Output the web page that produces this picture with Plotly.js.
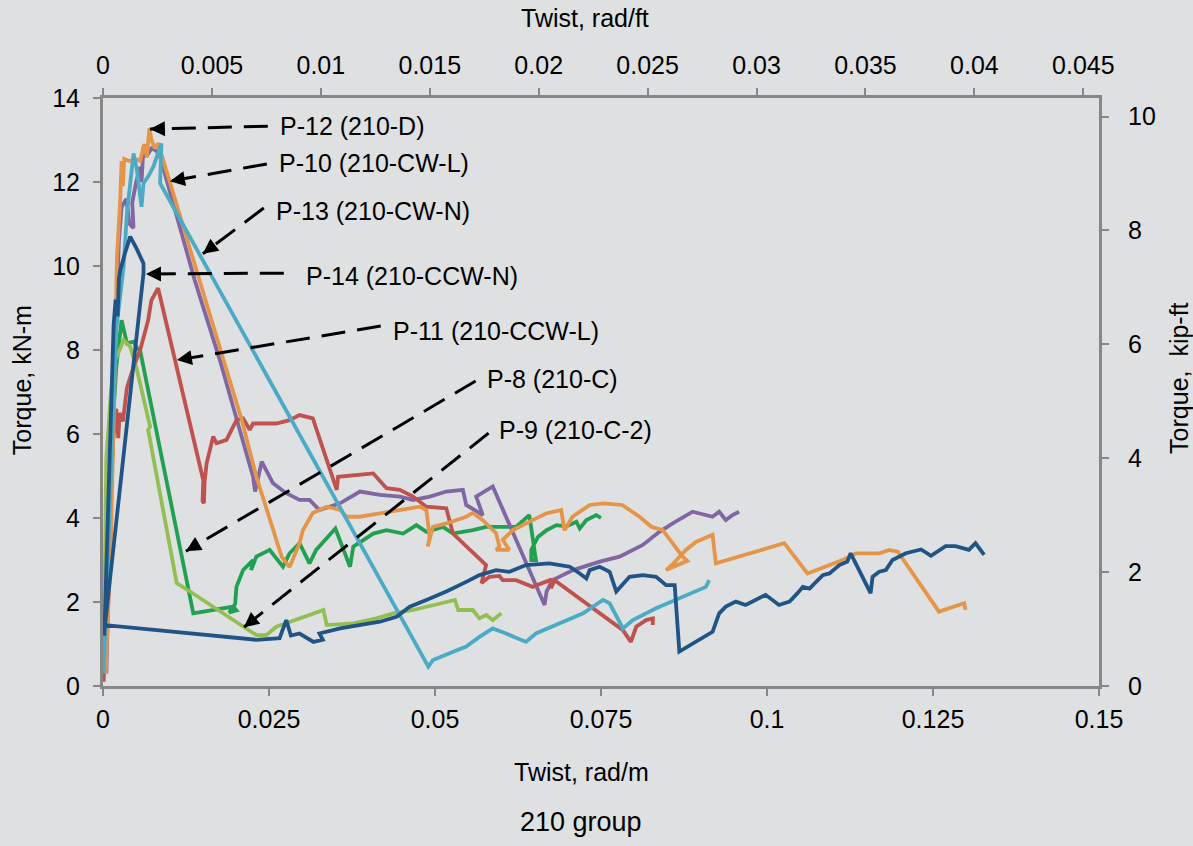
<!DOCTYPE html>
<html>
<head>
<meta charset="utf-8">
<script src="https://cdn.plot.ly/plotly-3.0.1.min.js"></script>
<style>
  html, body { margin: 0; padding: 0; background: #DFE0E2; }
  #chart { width: 1193px; height: 846px; }
</style>
</head>
<body>
<div id="chart"></div>
<script>
// Torque versus twist for the 210 group specimens (kN-m vs rad/m, with kip-ft and rad/ft on the secondary axes)

const seriesLabels = ["P-8 (210-C)", "P-9 (210-C-2)", "P-10 (210-CW-L)", "P-11 (210-CCW-L)",
                      "P-12 (210-D)", "P-13 (210-CW-N)", "P-14 (210-CCW-N)"];

// P-8 (210-C)
const p8Twist = [0.0002,0.0008,0.0014,0.0020,0.0025,0.0028,0.0036,0.0046,0.0051,0.0056,0.0136,0.0196,0.0201,0.0190,0.0199,0.0201,0.0211,0.0226,0.0223,0.0231,0.0251,0.0271,0.0281,0.0296,0.0311,0.0321,0.0350,0.0367,0.0372,0.0377,0.0407,0.0427,0.0452,0.0472,0.0487,0.0512,0.0527,0.0557,0.0577,0.0622,0.0642,0.0652,0.0645,0.0645,0.0655,0.0668,0.0683,0.0698,0.0713,0.0718,0.0728,0.0743,0.0750];
const p8Torque = [0.3,3.5,6.0,7.6,8.3,8.71,8.16,8.20,8.05,7.98,1.73,1.89,1.80,1.75,1.95,2.36,2.76,3.00,2.76,3.08,3.24,2.84,3.16,3.40,2.92,3.24,3.75,3.08,2.84,3.32,3.63,3.71,3.63,3.83,3.67,3.79,3.63,3.71,3.79,3.79,4.07,3.00,3.00,3.24,3.55,3.71,3.83,3.80,3.91,3.75,3.95,4.07,4.00];

// P-9 (210-C-2)
const p9Twist = [0.0001,0.0003,0.0005,0.0012,0.0018,0.0025,0.0031,0.0041,0.0050,0.0071,0.0068,0.0111,0.0131,0.0231,0.0246,0.0261,0.0291,0.0332,0.0337,0.0377,0.0412,0.0437,0.0467,0.0497,0.0530,0.0535,0.0557,0.0567,0.0577,0.0587,0.0600];
const p9Torque = [0.5,3.0,5.4,7.0,7.76,8.0,8.24,8.08,7.6,6.17,6.10,2.45,2.25,1.21,1.21,1.41,1.57,1.81,1.45,1.49,1.61,1.73,1.81,1.93,2.05,1.81,1.81,1.61,1.69,1.57,1.73];

// P-10 (210-CW-L)
const p10Twist = [0.0005,0.0012,0.0018,0.0024,0.0028,0.0035,0.0040,0.0046,0.0044,0.0050,0.0056,0.0058,0.0061,0.0065,0.0068,0.0073,0.0080,0.0086,0.0138,0.0176,0.0226,0.0229,0.0239,0.0256,0.0276,0.0296,0.0311,0.0326,0.0357,0.0387,0.0417,0.0447,0.0467,0.0492,0.0517,0.0542,0.0547,0.0572,0.0562,0.0587,0.0665,0.0668,0.0677,0.0708,0.0748,0.0778,0.0813,0.0838,0.0858,0.0888,0.0918,0.0928,0.0938,0.0948,0.0958];
const p10Torque = [0.3,4.5,8.0,10.6,11.4,11.6,11.0,10.9,11.5,12.0,12.36,12.0,12.84,12.6,12.68,12.8,12.75,12.6,9.67,7.76,4.98,4.63,5.34,4.83,4.59,4.43,4.43,4.19,4.35,4.63,4.55,4.51,4.43,4.51,4.63,4.67,4.31,4.07,4.51,4.75,1.93,2.25,2.52,2.76,2.96,3.08,3.36,3.67,3.87,4.15,4.03,4.15,3.95,4.07,4.15];

// P-11 (210-CCW-L)
const p11Twist = [0.0001,0.0003,0.0010,0.0015,0.0020,0.0023,0.0025,0.0030,0.0036,0.0046,0.0056,0.0068,0.0073,0.0083,0.0151,0.0150,0.0152,0.0153,0.0156,0.0166,0.0171,0.0186,0.0201,0.0211,0.0221,0.0226,0.0261,0.0281,0.0296,0.0316,0.0337,0.0352,0.0354,0.0382,0.0407,0.0427,0.0447,0.0467,0.0487,0.0517,0.0527,0.0577,0.0570,0.0582,0.0597,0.0602,0.0622,0.0647,0.0668,0.0673,0.0675,0.0680,0.0783,0.0795,0.0803,0.0818,0.0828,0.0828];
const p11Torque = [0.1,1.0,4.0,5.8,6.6,5.9,6.5,6.3,7.1,7.60,8.00,8.71,9.19,9.47,4.90,4.40,4.35,4.85,5.30,5.94,5.78,5.86,6.33,6.37,6.10,6.25,6.25,6.33,6.45,6.37,5.38,4.67,4.98,5.02,5.06,4.71,4.67,4.51,4.27,4.23,3.63,2.88,2.45,2.60,2.62,2.52,2.52,2.36,2.48,2.52,2.33,2.52,1.33,1.05,1.41,1.57,1.61,1.45];

// P-12 (210-D)
const p12Twist = [0.0004,0.0012,0.0017,0.0021,0.0026,0.0028,0.0030,0.0032,0.0040,0.0048,0.0056,0.0062,0.0066,0.0070,0.0073,0.0078,0.0083,0.0209,0.0231,0.0269,0.0281,0.0296,0.0301,0.0316,0.0337,0.0357,0.0367,0.0387,0.0417,0.0447,0.0477,0.0487,0.0492,0.0489,0.0497,0.0517,0.0547,0.0557,0.0572,0.0592,0.0597,0.0592,0.0612,0.0602,0.0617,0.0647,0.0668,0.0690,0.0695,0.0707,0.0733,0.0753,0.0782,0.0808,0.0826,0.0843,0.0858,0.0873,0.0880,0.0848,0.0858,0.0878,0.0893,0.0918,0.0923,0.1026,0.1061,0.1114,0.1134,0.1169,0.1184,0.1197,0.1259,0.1297,0.1299];
const p12Torque = [0.3,3.5,7.0,10.2,11.6,12.5,11.9,12.55,12.5,12.55,12.5,12.9,12.6,13.28,13.0,12.8,12.92,6.33,4.98,3.08,2.83,3.40,3.71,4.12,4.27,4.19,4.03,4.03,4.11,4.19,4.27,4.19,3.55,3.32,3.79,3.87,4.03,4.12,3.95,3.64,3.32,3.24,3.24,3.48,3.71,3.95,4.11,4.19,3.71,4.03,4.31,4.35,4.31,4.03,3.79,3.71,3.40,3.08,2.98,2.76,2.90,3.24,3.43,3.60,2.92,3.40,2.68,3.00,3.16,3.16,3.24,3.20,1.77,1.97,1.81];

// P-13 (210-CW-N)
const p13Twist = [0.0001,0.0003,0.0012,0.0020,0.0031,0.0036,0.0046,0.0051,0.0058,0.0061,0.0068,0.0076,0.0088,0.0086,0.0490,0.0497,0.0522,0.0547,0.0567,0.0587,0.0607,0.0637,0.0652,0.0688,0.0723,0.0753,0.0763,0.0783,0.0798,0.0833,0.0863,0.0888,0.0908,0.0913];
const p13Torque = [0.3,1.2,5.5,8.5,9.98,11.25,12.68,12.29,11.41,11.97,12.13,12.37,12.92,11.97,0.46,0.62,0.78,0.94,1.17,1.37,1.25,1.05,1.25,1.49,1.73,2.05,1.97,1.37,1.57,1.85,2.05,2.21,2.36,2.52];

// P-14 (210-CCW-N)
const p14Twist = [0.0002,0.0008,0.0012,0.0016,0.0019,0.0022,0.0024,0.0026,0.0033,0.0041,0.0051,0.0061,0.0061,0.0003,0.0231,0.0266,0.0276,0.0283,0.0296,0.0317,0.0331,0.0326,0.0357,0.0387,0.0417,0.0442,0.0462,0.0487,0.0517,0.0547,0.0567,0.0592,0.0612,0.0637,0.0672,0.0688,0.0703,0.0718,0.0728,0.0733,0.0748,0.0763,0.0773,0.0793,0.0813,0.0833,0.0848,0.0861,0.0868,0.0918,0.0928,0.0938,0.0953,0.0968,0.0998,0.1018,0.1034,0.1046,0.1054,0.1064,0.1084,0.1094,0.1109,0.1121,0.1126,0.1156,0.1159,0.1169,0.1179,0.1189,0.1209,0.1232,0.1247,0.1269,0.1284,0.1304,0.1314,0.1327];
const p14Torque = [1.2,4.5,7.0,8.6,9.2,8.8,9.7,9.9,10.3,10.70,10.4,10.06,9.83,1.45,1.10,1.14,1.57,1.20,1.25,1.05,1.10,1.25,1.37,1.45,1.53,1.65,1.89,2.05,2.25,2.48,2.64,2.76,2.72,2.88,2.92,2.88,2.84,2.68,2.56,2.76,2.84,2.72,2.25,2.60,2.64,2.60,2.40,2.40,0.82,1.29,1.73,1.89,2.01,1.93,2.17,1.93,2.01,2.21,2.36,2.32,2.64,2.68,2.88,2.96,3.16,2.21,2.60,2.72,2.76,3.00,3.16,3.25,3.10,3.33,3.33,3.24,3.40,3.12];

// Axis ticks (primary SI, secondary US customary)
const twistTicksM = [0, 0.025, 0.05, 0.075, 0.1, 0.125, 0.15];
const twistTickTextM = ["0", "0.025", "0.05", "0.075", "0.1", "0.125", "0.15"];
const twistTicksFt = [0, 0.005, 0.01, 0.015, 0.02, 0.025, 0.03, 0.035, 0.04, 0.045];
const twistTickTextFt = ["0", "0.005", "0.01", "0.015", "0.02", "0.025", "0.03", "0.035", "0.04", "0.045"];
const torqueTicksKN = [0, 2, 4, 6, 8, 10, 12, 14];
const torqueTicksKip = [0, 2, 4, 6, 8, 10];

const M_TO_FT = 0.3048;        // rad/m -> rad/ft
const KNM_TO_KIPFT = 0.737562; // kN-m -> kip-ft
const TWIST_MAX = 0.15, TORQUE_MAX = 14;

const FONT = "Liberation Sans, Arial, sans-serif";
const AXIS_GREY = "#878787";

const seriesData = [
  [p8Twist, p8Torque, "#21A052"],
  [p9Twist, p9Torque, "#93BF52"],
  [p10Twist, p10Torque, "#8066A3"],
  [p11Twist, p11Torque, "#BF524E"],
  [p12Twist, p12Torque, "#E59547"],
  [p13Twist, p13Torque, "#4BABC5"],
  [p14Twist, p14Torque, "#215486"]
];

const traces = seriesData.map((s, i) => ({
  type: "scatter",
  mode: "lines",
  name: seriesLabels[i],
  x: s[0],
  y: s[1],
  line: { color: s[2], width: 3.8 },
  hoverinfo: "x+y+name",
  showlegend: false
}));

// The same specimen in US units on the secondary (top / right) axes; it only carries those axes
traces.push({
  type: "scatter",
  mode: "none",
  name: seriesLabels[6] + " (US units)",
  x: p14Twist.map(v => v * M_TO_FT),
  y: p14Torque.map(v => v * KNM_TO_KIPFT),
  xaxis: "x2",
  yaxis: "y2",
  hoverinfo: "skip",
  showlegend: false
});

// Callouts: dashed leader from the label to an arrowhead on the curve
const callouts = [
  { label: seriesLabels[4], tip: [0.00707, 13.26], tail: [0.02482, 13.33], text: [0.02633, 13.33] },
  { label: seriesLabels[2], tip: [0.01008, 12.02], tail: [0.02467, 12.43], text: [0.02618, 12.45] },
  { label: seriesLabels[5], tip: [0.01504, 10.29], tail: [0.02422, 11.38], text: [0.02573, 11.31] },
  { label: seriesLabels[6], tip: [0.00647, 9.81],  tail: [0.02723, 9.83],  text: [0.03024, 9.76] },
  { label: seriesLabels[3], tip: [0.01113, 7.76],  tail: [0.04183, 8.57],  text: [0.04333, 8.45] },
  { label: seriesLabels[0], tip: [0.01249, 3.21],  tail: [0.05612, 7.26],  text: [0.05747, 7.31] },
  { label: seriesLabels[1], tip: [0.02121, 1.40],  tail: [0.05807, 6.02],  text: [0.05928, 6.10] }
];

const plotW = 996, plotH = 588;
const pxPerX = plotW / TWIST_MAX, pxPerY = plotH / TORQUE_MAX;

const shapes = [];
const annotations = [];
callouts.forEach(c => {
  shapes.push({
    type: "line", xref: "x", yref: "y", layer: "above",
    x0: c.tail[0], y0: c.tail[1], x1: c.tip[0], y1: c.tip[1],
    line: { color: "#000000", width: 3, dash: "24px,12px" }
  });
  const dx = (c.tail[0] - c.tip[0]) * pxPerX;
  const dy = -(c.tail[1] - c.tip[1]) * pxPerY;
  const len = Math.hypot(dx, dy);
  annotations.push({
    x: c.tip[0], y: c.tip[1], xref: "x", yref: "y",
    text: "", showarrow: true, arrowhead: 2, arrowsize: 1.2, arrowwidth: 2.5,
    arrowcolor: "#000000", standoff: 0, ax: dx / len * 14, ay: dy / len * 14
  });
  annotations.push({
    x: c.text[0], y: c.text[1], xref: "x", yref: "y",
    text: c.label, showarrow: false, xanchor: "left", yanchor: "middle",
    font: { family: FONT, size: 25, color: "#000000" }
  });
});

// Axis titles and caption
const titleFont = { family: FONT, size: 25, color: "#000000" };
annotations.push(
  { text: "Twist, rad/ft", xref: "paper", yref: "paper", x: 0.4835, y: 1.136, showarrow: false,
    xanchor: "center", yanchor: "middle", font: titleFont },
  { text: "Twist, rad/m", xref: "paper", yref: "paper", x: 0.4804, y: -0.1463, showarrow: false,
    xanchor: "center", yanchor: "middle", font: titleFont },
  { text: "210 group", xref: "paper", yref: "paper", x: 0.4804, y: -0.2313, showarrow: false,
    xanchor: "center", yanchor: "middle", font: { family: FONT, size: 27, color: "#000000" } },
  { text: "Torque, kN-m", xref: "paper", yref: "paper", x: -0.0812, y: 0.5204, showarrow: false,
    textangle: -90, xanchor: "center", yanchor: "middle", font: titleFont },
  { text: "Torque,\u00a0 kip-ft", xref: "paper", yref: "paper", x: 1.0802, y: 0.5238, showarrow: false,
    textangle: -90, xanchor: "center", yanchor: "middle", font: titleFont }
);

const tickFont = { family: FONT, size: 25, color: "#000000" };
const axisCommon = {
  showgrid: false, zeroline: false, showline: true, linecolor: AXIS_GREY, linewidth: 3,
  ticks: "outside", ticklen: 7, tickwidth: 2, tickcolor: AXIS_GREY, tickfont: tickFont,
  tickmode: "array", fixedrange: true, automargin: false
};

const layout = {
  width: 1193, height: 846,
  margin: { l: 103, r: 94, t: 98, b: 160, pad: 0 },
  paper_bgcolor: "#DFE0E2",
  plot_bgcolor: "#DFE0E2",
  showlegend: false,
  xaxis: Object.assign({}, axisCommon, {
    range: [0, TWIST_MAX], tickvals: twistTicksM, ticktext: twistTickTextM,
    anchor: "y", side: "bottom", ticklabelstandoff: 2
  }),
  xaxis2: Object.assign({}, axisCommon, {
    range: [0, TWIST_MAX * M_TO_FT], tickvals: twistTicksFt, ticktext: twistTickTextFt,
    overlaying: "x", anchor: "y", side: "top", ticklabelstandoff: 4
  }),
  yaxis: Object.assign({}, axisCommon, {
    range: [0, TORQUE_MAX], tickvals: torqueTicksKN, ticktext: torqueTicksKN.map(String),
    anchor: "x", side: "left", ticklabelstandoff: 8
  }),
  yaxis2: Object.assign({}, axisCommon, {
    range: [0, TORQUE_MAX * KNM_TO_KIPFT], tickvals: torqueTicksKip, ticktext: torqueTicksKip.map(String),
    overlaying: "y", anchor: "x", side: "right", ticklabelstandoff: 14
  }),
  shapes: shapes,
  annotations: annotations
};

Plotly.newPlot("chart", traces, layout, { displayModeBar: false, staticPlot: true });
</script>
</body>
</html>
